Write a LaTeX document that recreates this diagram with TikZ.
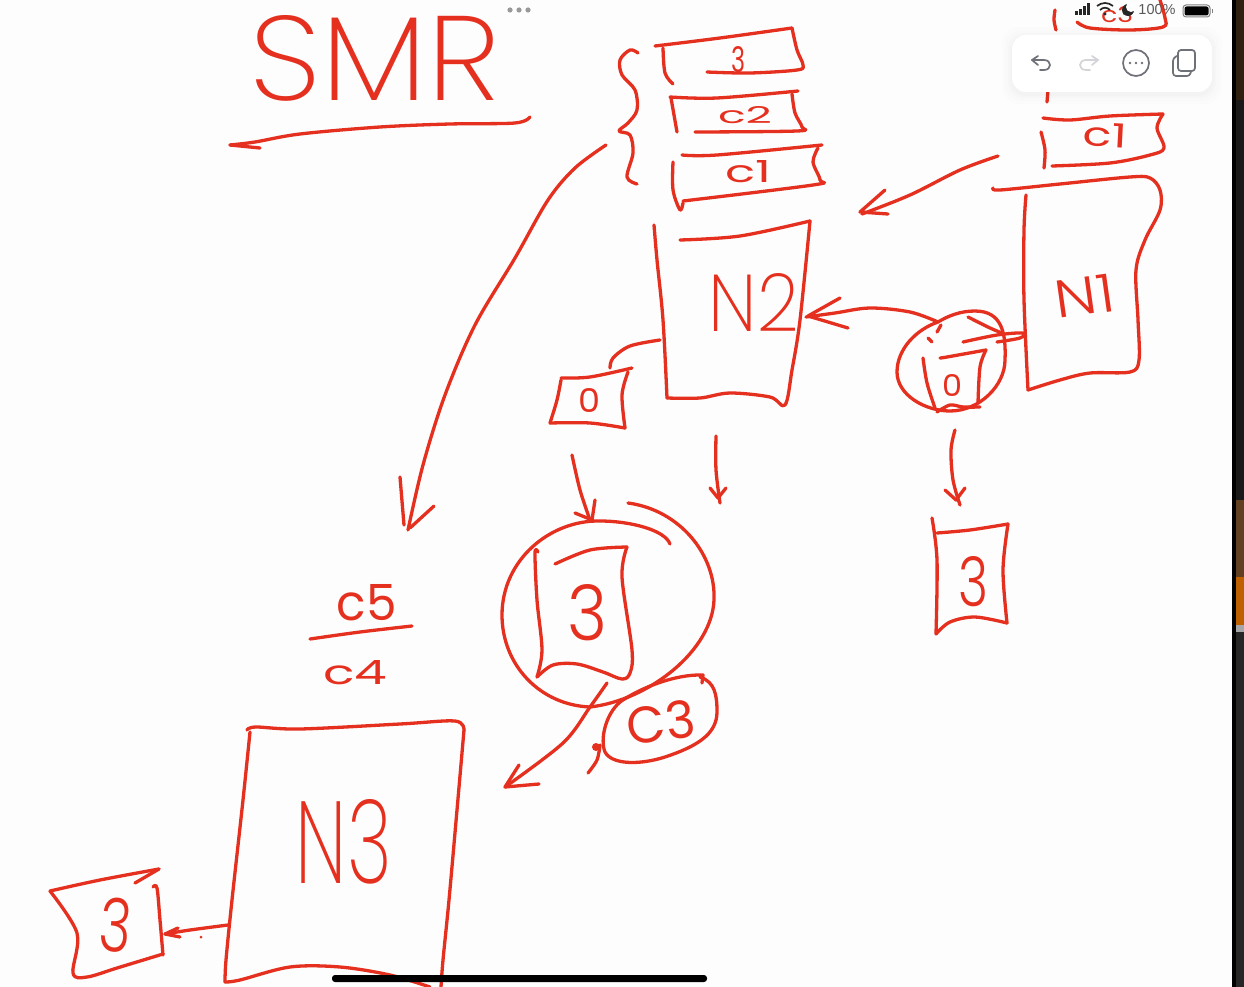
\documentclass[tikz,border=0pt]{standalone}
\usepackage{fontspec}
\usepackage{graphicx}
\setmainfont{Liberation Sans}
\newfontfamily\handthin{Poppins ExtraLight}
\newfontfamily\handlight{Poppins Light}
\newfontfamily\handreg{Poppins}
\definecolor{ink}{HTML}{E5301F}
\definecolor{paper}{HTML}{FDFDFD}
\definecolor{icon}{HTML}{6E7178}
\newcommand\hs[1]{\draw[inkline] plot[smooth,tension=.55] coordinates {#1};}
\newcommand\fitt[3]{\resizebox{#1pt}{#2pt}{#3}}
\tikzset{
  inkline/.style={draw=ink,line width=3.3pt,line cap=round,line join=round},
  handlabel/.style={text=ink,inner sep=0pt,outer sep=0pt},
  iconline/.style={draw=icon,line width=1.7pt,line cap=round,line join=round},
}
\begin{document}
\begin{tikzpicture}[x=1pt,y=-1pt]
\useasboundingbox (0,0) rectangle (1244,987);
\fill[paper] (0,0) rectangle (1232,987);
% right-hand band
\fill[black] (1232,0) rectangle (1236,987);
\fill[black!75!brown] (1236,0) rectangle (1244,100);
\fill[black!80!gray] (1236,100) rectangle (1244,500);
\fill[black!50!brown] (1236,500) rectangle (1244,577);
\fill[orange!75!black] (1236,577) rectangle (1244,625);
\fill[gray!70!white] (1236,625) rectangle (1244,632);
\fill[black!70!gray] (1236,632) rectangle (1244,987);
% title
\node[handlabel] (smr) at (375,58) {\fitt{250}{85}{\handthin SMR}};
\hs{(530,117)(515,123)(450,124)(380,127)(300,134)(255,142)(230,145)}
\hs{(230,145)(260,148)}
% top-right, partly hidden
\hs{(1055,10)(1054,20)(1056,30)}
\hs{(1048,90)(1047,102)}
\hs{(1077,22)(1090,28)(1130,30)(1163,27)(1165,18)(1160,0)}
\node[handlabel] (cthreetop) at (1117,15) {\fitt{32}{16}{\handreg c3}};
% c1 box of N1
\hs{(1043,118)(1070,120)(1110,116)(1163,114)}
\hs{(1163,114)(1157,128)(1164,148)(1150,155)(1110,163)(1052,166)}
\hs{(1041,132)(1045,150)(1044,168)}
\node[handlabel,rotate=-3] (conea) at (1105,135) {\fitt{44}{24}{\handreg c1}};
% N1
\hs{(993,188)(1000,190)(1060,184)(1130,177)(1150,178)(1160,190)(1160,210)(1145,240)(1136,270)(1138,320)(1139,360)(1130,372)(1090,373)(1060,380)(1028,390)}
\hs{(1028,390)(1024,300)(1024,230)(1026,195)}
\node[handlabel,rotate=8] (none) at (1085,296) {\fitt{60}{38}{\handlight N1}};
% N1 to N2
\hs{(998,156)(960,170)(910,195)(862,214)}
\draw[inkline] (885,190) -- (860,212) -- (888,214);
% brace
\hs{(638,53)(630,50)(620,60)(622,75)(635,90)(637,110)(628,123)(619,131)(630,135)(633,153)(627,177)(637,184)}
% stack
\hs{(655,46)(720,38)(792,28)}
\hs{(792,28)(797,50)(803,65)(797,70)(750,73)(707,72)}
\hs{(663,48)(665,73)(673,84)}
\node[handlabel] (sthree) at (738,60) {\fitt{14}{26}{\handreg 3}};
\hs{(670,97)(717,98)(798,91)}
\hs{(792,94)(795,113)(802,127)(797,131)(695,132)}
\hs{(671,98)(677,132)}
\node[handlabel] (stwo) at (745,115) {\fitt{54}{17}{\handreg c2}};
\hs{(682,155)(717,155)(822,145)}
\hs{(818,148)(813,162)(820,180)(813,185)(683,201)}
\hs{(673,162)(673,190)(680,210)(683,203)}
\node[handlabel] (sone) at (748,172) {\fitt{46}{22}{\handreg c1}};
% N2
\hs{(680,240)(740,236)(810,221)}
\hs{(810,221)(800,320)(792,370)(785,405)(770,397)(730,393)(700,398)(667,398)}
\hs{(667,398)(663,320)(657,260)(654,225)}
\node[handlabel] (ntwo) at (754,302) {\fitt{90}{58}{\handthin N2}};
% into N2
\hs{(938,322)(910,312)(870,308)(835,313)(806,317)}
\draw[inkline] (840,298) -- (808,316) -- (848,328);
% small 0 box
\hs{(660,340)(630,346)(613,358)(610,368)}
\hs{(561,378)(590,377)(632,368)}
\hs{(628,372)(622,395)(625,428)}
\hs{(625,428)(590,423)(550,423)}
\hs{(550,423)(557,400)(561,380)}
\node[handlabel] (zeroa) at (589,400) {\fitt{22}{24}{\handreg 0}};
% circled 0
\draw[inkline] (938,322) .. controls (915,330) and (897,350) .. (897,372) .. controls (897,395) and (925,411) .. (950,411) .. controls (980,411) and (1005,385) .. (1005,360) .. controls (1006,335) and (1003,311) .. (975,311) .. controls (960,311) and (948,316) .. (938,322);
\hs{(968,317)(990,328)(1002,333)}
\hs{(963,342)(997,335)(1023,333)(1020,338)(997,342)}
\hs{(940,358)(947,357)(986,350)}
\hs{(986,350)(980,367)(978,403)}
\hs{(980,407)(963,407)(950,405)(937,412)}
\hs{(923,358)(927,383)(935,408)}
\draw[inkline] (928,338) -- (932,342);
\draw[inkline] (937,332) -- (941,325);
\node[handlabel] (zerob) at (952,385) {\fitt{20}{22}{\handreg 0}};
% arrow to right 3
\hs{(955,430)(951,450)(953,480)(960,505)}
\draw[inkline] (945,490) -- (956,500) -- (965,488);
% right 3 box
\hs{(932,518)(937,560)(936,634)}
\hs{(937,533)(970,530)(1008,524)}
\hs{(1008,524)(1003,570)(1007,623)}
\hs{(1007,623)(975,617)(950,622)(936,634)}
\node[handlabel] (threeb) at (973,582) {\fitt{30}{50}{\handlight 3}};
% two short arrows
\hs{(716,436)(716,470)(720,503)}
\draw[inkline] (710,488) -- (718,498) -- (726,488);
\hs{(572,455)(580,490)(590,520)}
\draw[inkline] (575,513) -- (592,520) -- (595,500);
% big circle
\draw[inkline] (628,503) .. controls (680,510) and (716,555) .. (714,600) .. controls (712,650) and (650,700) .. (590,707) .. controls (540,705) and (502,665) .. (502,615) .. controls (502,560) and (550,520) .. (600,521) .. controls (630,521) and (665,530) .. (670,544);
% middle 3 box
\hs{(538,552)(535,553)(537,600)(542,650)(537,677)}
\hs{(537,677)(553,665)(577,664)(603,672)(622,679)(630,673)(632,650)(622,577)(627,547)}
\hs{(627,547)(590,550)(555,564)}
\node[handlabel] (threec) at (587,613) {\fitt{40}{56}{\handlight 3}};
% arrow to N3
\hs{(607,683)(590,707)(563,743)(505,787)}
\draw[inkline] (519,765) -- (505,787) -- (539,784);
% C3 blob
\draw[inkline] (702,683) -- (703,675) .. controls (675,674) and (640,688) .. (620,702) .. controls (605,715) and (600,740) .. (605,752) .. controls (612,765) and (640,765) .. (665,757) .. controls (695,747) and (717,735) .. (717,712) .. controls (717,695) and (715,682) .. (700,677);
\hs{(600,745)(597,760)(588,773)}
\fill[ink] (596,747) circle (4);
\node[handlabel,rotate=8] (cthree) at (661,722) {\fitt{68}{38}{\handreg C3}};
% c5 / c4
\node[handlabel] (cfive) at (367,603) {\fitt{60}{36}{\handreg c5}};
\hs{(310,639)(360,632)(412,626)}
\node[handlabel] (cfour) at (355,673) {\fitt{64}{24}{\handreg c4}};
% long arrow
\hs{(606,145)(575,168)(548,200)(515,258)(475,325)(445,395)(423,465)(408,530)}
\draw[inkline] (400,477) -- (404,525);
\draw[inkline] (410,528) -- (434,506);
% N3
\hs{(247,730)(256,727)(300,729)(400,724)(455,721)(464,730)}
\hs{(464,730)(457,810)(449,900)(443,960)(441,987)}
\hs{(250,732)(243,800)(232,900)(226,960)(225,982)}
\hs{(225,982)(240,980)(290,967)(340,967)(390,975)(430,987)}
\node[handlabel] (nthree) at (344,842) {\fitt{96}{84}{\handthin N3}};
% left 3 box
\hs{(159,869)(100,880)(50,891)}
\hs{(135,883)(159,869)}
\hs{(50,891)(77,933)(73,973)(87,977)(117,968)(163,954)}
\hs{(153,887)(157,888)(160,920)(163,955)}
\node[handlabel,rotate=-5] (threed) at (116,925) {\fitt{32}{54}{\handlight 3}};
% arrow to left box
\hs{(228,925)(190,930)(165,934)}
\draw[inkline] (178,928) -- (165,934) -- (180,937);
\fill[ink] (201,937) circle (1.5);
% toolbar
\foreach \g/\o in {10/.006,7/.008,4/.01,2/.012}
  \fill[black,opacity=\o,rounded corners=16pt] (1012-\g,35-\g+2) rectangle (1212+\g,92+\g+2);
\fill[white,rounded corners=14pt] (1012,35) rectangle (1212,92);
\draw[iconline] (1038,56) -- (1032,60) -- (1038,65);
\draw[iconline] (1032,60) -- (1044,60) .. controls (1052,60) and (1052,70) .. (1044,70) -- (1040,70);
\draw[iconline,draw=icon!30] (1092,56) -- (1098,60) -- (1092,65);
\draw[iconline,draw=icon!30] (1098,60) -- (1086,60) .. controls (1078,60) and (1078,70) .. (1086,70) -- (1090,70);
\draw[iconline] (1136,63) circle (13);
\foreach \d in {1130,1136,1142} \fill[icon] (\d,63) circle (1.4);
\draw[iconline,rounded corners=3pt] (1177,56) -- (1173,58) -- (1173,76) -- (1190,76) -- (1191,71);
\draw[iconline,rounded corners=3pt,fill=white] (1178,50) rectangle (1195,71);
% status bar
\foreach \i/\h in {0/4,1/6,2/9,3/12} \fill[black!85] (1075+\i*4,15-\h) rectangle (1077.5+\i*4,15);
\draw[black!85,line width=1.7pt] (1097,6) .. controls (1102,2) and (1108,2) .. (1113,6);
\draw[black!85,line width=1.7pt] (1100,10) .. controls (1103,7) and (1107,7) .. (1110,10);
\fill[black!85] (1105,14) circle (1.6);
\fill[black!85] (1128,10) circle (6);
\fill[white] (1131,7) circle (5);
\node[text=black!65,inner sep=0pt,font=\fontsize{14.5}{16}\selectfont] (battpct) at (1157,10) {100\%};
\draw[gray,line width=1pt,rounded corners=3pt] (1183,5) rectangle (1210,17);
\fill[black,rounded corners=2pt] (1184.5,6.5) rectangle (1208.5,15.5);
\fill[gray] (1211.5,9) rectangle (1213,13);
% dots and home bar
\foreach \d in {510,519,528} \fill[gray!80] (\d,10) circle (2.6);
\fill[black,rounded corners=3pt] (332,975) rectangle (707,982);
\end{tikzpicture}
\end{document}
